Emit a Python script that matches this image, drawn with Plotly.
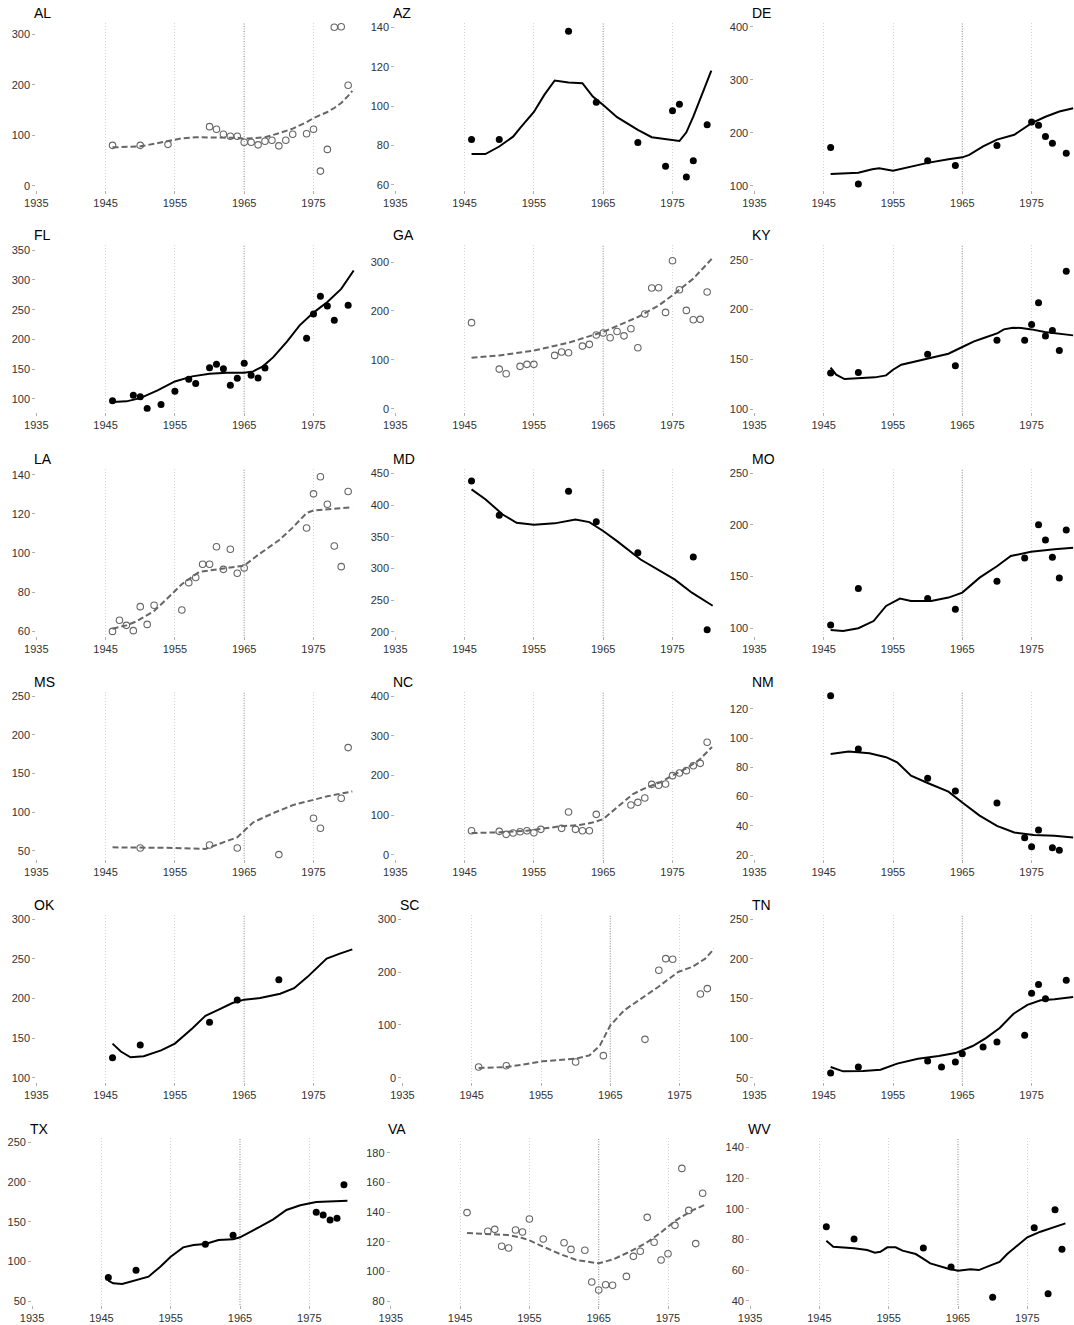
import plotly.graph_objects as go

# ---------------- data ----------------
states = ["AL", "AZ", "DE", "FL", "GA", "KY", "LA", "MD", "MO",
          "MS", "NC", "NM", "OK", "SC", "TN", "TX", "VA", "WV"]
dashed_states = ["AL", "GA", "LA", "MS", "NC", "SC", "VA"]
x_tick_years = [1935, 1945, 1955, 1965, 1975]
grid_years = [1945, 1955, 1975]
policy_year = 1965

AL_years = [1946, 1950, 1954, 1960, 1961, 1962, 1963, 1964, 1965, 1966, 1967, 1968, 1969,
            1970, 1971, 1972, 1974, 1975, 1976, 1977, 1978, 1979, 1980]
AL_values = [80, 80, 82, 117, 112, 102, 98, 98, 86, 86, 81, 88, 90, 79, 90, 102, 103, 112,
             29, 72, 314, 315, 199]
AL_fit_years = [1946, 1948, 1950, 1952, 1954, 1956, 1958, 1960, 1962, 1964, 1965, 1967,
                1968, 1970, 1972, 1974, 1975, 1976, 1977, 1978, 1979, 1980, 1980.6]
AL_fit_values = [76, 77, 78, 83, 88, 94, 96, 96, 96, 95, 93, 94, 96, 104, 113, 126, 134,
                 140, 146, 154, 164, 178, 188]
AL_ticks = [0, 100, 200, 300]

AZ_years = [1946, 1950, 1960, 1964, 1970, 1974, 1975, 1976, 1977, 1978, 1980]
AZ_values = [83, 83, 138, 102, 81.5, 69.5, 97.7, 101, 64, 72.3, 90.5]
AZ_fit_years = [1946, 1948, 1950, 1952, 1953, 1955, 1956.5, 1957.3, 1958, 1960, 1962,
                1963.5, 1965, 1967, 1970, 1972, 1976, 1977, 1978, 1980.6]
AZ_fit_values = [75.7, 75.7, 79.5, 84.5, 88.8, 97, 105.7, 109.6, 113, 112, 111.6, 104.8,
                 100.6, 94.4, 87.9, 84.2, 82.3, 86.7, 94.7, 118]
AZ_ticks = [60, 80, 100, 120, 140]

DE_years = [1946, 1950, 1960, 1964, 1970, 1975, 1976, 1977, 1978, 1980]
DE_values = [172, 103, 147, 138, 176, 220, 214, 193, 180, 161]
DE_fit_years = [1946, 1950, 1952, 1953, 1955, 1956, 1960, 1963, 1965, 1966, 1968, 1970,
                1971, 1972.5, 1975, 1977, 1979, 1981]
DE_fit_values = [122, 124.5, 131, 133, 128, 131, 143, 150, 153.5, 158, 174, 187, 191, 196,
                 218, 230, 240, 246]
DE_ticks = [100, 200, 300, 400]

FL_years = [1946, 1949, 1950, 1951, 1953, 1955, 1957, 1958, 1960, 1961, 1962, 1963, 1964,
            1965, 1966, 1967, 1968, 1974, 1975, 1976, 1977, 1978, 1980]
FL_values = [96.6, 105.6, 103.4, 83.7, 90.4, 112.4, 132.6, 125.8, 152.2, 157.9, 150.6, 122.5,
             134.3, 159.6, 139.3, 134.8, 151.7, 201.7, 242.7, 272.5, 256.2, 232, 257.3]
FL_fit_years = [1946, 1948, 1950, 1952.5, 1955, 1957.5, 1960, 1962.5, 1965, 1966.3, 1967.7,
                1969.2, 1971.2, 1973, 1975, 1977, 1979, 1980.8]
FL_fit_values = [94.4, 95.5, 101, 114, 129, 137.6, 142, 143.8, 143.8, 146, 154.5, 170,
                 196.6, 223.6, 245, 263, 285, 316]
FL_ticks = [100, 150, 200, 250, 300, 350]

GA_years = [1946, 1950, 1951, 1953, 1954, 1955, 1958, 1959, 1960, 1962, 1963, 1964, 1965,
            1966, 1967, 1968, 1969, 1970, 1971, 1972, 1973, 1974, 1975, 1976, 1977, 1978,
            1979, 1980]
GA_values = [176, 81, 71.6, 86.6, 90.7, 90.7, 109, 116, 114.5, 128, 131.6, 150.6, 154.7,
             145, 158, 149, 163.6, 124.7, 193.6, 246.8, 247.4, 197, 302.7, 243.4, 201, 182,
             182.7, 238.6]
GA_fit_years = [1946, 1950, 1955, 1960, 1965, 1970, 1973, 1975, 1978, 1980.7]
GA_fit_values = [104, 109, 119, 135, 157, 187.5, 211, 232, 266, 307]
GA_ticks = [0, 100, 200, 300]

KY_years = [1946, 1950, 1960, 1964, 1970, 1974, 1975, 1976, 1977, 1978, 1979, 1980]
KY_values = [136.2, 136.8, 154.9, 143.5, 169, 169, 185, 206.8, 173.3, 179, 158.9, 238.3]
KY_fit_years = [1946, 1946.8, 1948, 1950, 1952.4, 1954, 1955, 1956.2, 1957.2, 1960, 1963,
                1965, 1966.7, 1968.2, 1970.1, 1971, 1972.3, 1973.5, 1975, 1976.9, 1978.8,
                1981]
KY_fit_values = [141.5, 134.5, 130.1, 130.8, 131.8, 133.8, 139.5, 144.5, 146.2, 150.6,
                 155.6, 162.3, 168, 171.6, 176.3, 180, 181.7, 181.4, 180, 177.3, 175.7, 174]
KY_ticks = [100, 150, 200, 250]

LA_years = [1946, 1947, 1948, 1949, 1950, 1951, 1952, 1956, 1957, 1958, 1959, 1960, 1961,
            1962, 1963, 1964, 1965, 1974, 1975, 1976, 1977, 1978, 1979, 1980]
LA_values = [59.8, 65.5, 62.9, 60.2, 72.5, 63.4, 73.2, 70.8, 84.8, 87.4, 94.2, 94.2, 103.2,
             91.6, 101.9, 89.6, 92.3, 112.8, 130.3, 139.1, 125, 103.6, 93, 131.5]
LA_fit_years = [1946, 1948, 1949.5, 1952, 1954, 1956, 1958.5, 1961.5, 1963, 1965, 1967,
                1969, 1970, 1972, 1974, 1975, 1977, 1980.6]
LA_fit_values = [61.2, 62.9, 65, 70.3, 77, 84, 90.3, 92, 92.5, 93.5, 99, 104, 106.5, 113,
                 120.5, 121.8, 122.5, 123.5]
LA_ticks = [60, 80, 100, 120, 140]

MD_years = [1946, 1950, 1960, 1964, 1970, 1978, 1980]
MD_values = [437.9, 383.7, 421.6, 373.7, 324.7, 317.9, 203.2]
MD_fit_years = [1946, 1948, 1950.5, 1952.5, 1955, 1958, 1961, 1963, 1965, 1967, 1970.4,
                1973, 1975.3, 1977.8, 1980.8]
MD_fit_values = [424.7, 409, 385, 372, 369, 371, 377, 373, 359, 343, 314, 298, 282.6,
                 261.6, 241]
MD_ticks = [200, 250, 300, 350, 400, 450]

MO_years = [1946, 1950, 1960, 1964, 1970, 1974, 1976, 1977, 1978, 1979, 1980]
MO_values = [103.2, 138.4, 128.7, 118.4, 145.5, 168, 200.3, 185.5, 168.7, 148.7, 195.2]
MO_fit_years = [1946, 1947.8, 1950, 1952.2, 1954, 1956, 1957.6, 1960.5, 1963, 1965, 1967.5,
                1970, 1972, 1974.9, 1978.3, 1981]
MO_fit_values = [98.4, 97.4, 100, 107, 121.6, 128.7, 126.5, 126.5, 129.7, 134.5, 149, 160,
                 170, 174, 176.5, 178]
MO_ticks = [100, 150, 200, 250]

MS_years = [1950, 1960, 1964, 1970, 1975, 1976, 1979, 1980]
MS_values = [53.9, 57.8, 53.9, 45.3, 92.2, 79.3, 118.1, 183.6]
MS_fit_years = [1946, 1950, 1955, 1959.4, 1961.4, 1964, 1966.3, 1969.2, 1972.1, 1975,
                1977, 1980.6]
MS_fit_values = [54.7, 54.7, 53.9, 52.6, 59, 67.7, 87, 99, 109.5, 116.4, 120.7, 127]
MS_ticks = [50, 100, 150, 200, 250]

NC_years = [1946, 1950, 1951, 1952, 1953, 1954, 1955, 1956, 1959, 1960, 1961, 1962, 1963,
            1964, 1969, 1970, 1971, 1972, 1973, 1974, 1975, 1976, 1977, 1978, 1979, 1980]
NC_values = [60.6, 59, 51.4, 54.7, 58, 60.6, 55.6, 64, 66.5, 107.8, 64, 60.6, 60.6, 101.9,
             125.5, 132.2, 143.2, 177.7, 175.2, 178.5, 199.6, 206.3, 212.2, 224.8, 230.7,
             283.8]
NC_fit_years = [1946, 1950, 1954, 1955.9, 1958.8, 1961.6, 1963.6, 1965, 1966.4, 1967.9,
                1969.3, 1971.3, 1973.2, 1975.1, 1977, 1978.9, 1980.7]
NC_fit_values = [54.7, 56.4, 60.6, 64.8, 71.6, 75, 81.7, 90, 111, 134, 153.3, 170, 182.7,
                 201, 218, 240, 272]
NC_ticks = [0, 100, 200, 300, 400]

NM_years = [1946, 1950, 1960, 1964, 1970, 1974, 1975, 1976, 1978, 1979]
NM_values = [129.1, 92.6, 72.5, 63.8, 55.6, 31.9, 25.7, 37.1, 25, 23.2]
NM_fit_years = [1946, 1948.6, 1951.6, 1954, 1955.6, 1957.6, 1960, 1963, 1965, 1967.5, 1970,
                1972.5, 1975.3, 1978.3, 1981]
NM_fit_values = [89.2, 90.8, 89.6, 87, 83.5, 74.3, 69.3, 63.4, 56, 47, 40, 35.5, 33.7,
                 33.2, 32]
NM_ticks = [20, 40, 60, 80, 100, 120]

OK_years = [1946, 1950, 1960, 1964, 1970]
OK_values = [125.3, 141.3, 169.9, 198.1, 223.8]
OK_fit_years = [1946, 1947.2, 1948.6, 1950.5, 1953, 1955, 1957.5, 1959.4, 1961.4, 1963.3,
                1965, 1967.3, 1970.2, 1972.2, 1974.1, 1976.9, 1978.8, 1980.6]
OK_fit_values = [143, 133, 125.7, 127, 134.5, 143, 162, 178, 186.3, 194.3, 198.5, 200.6,
                 206, 213, 227, 250.3, 256.6, 262]
OK_ticks = [100, 150, 200, 250, 300]

SC_years = [1946, 1950, 1960, 1964, 1970, 1972, 1973, 1974, 1978, 1979]
SC_values = [20.2, 22.7, 29.7, 41.7, 72.6, 203.4, 225.5, 224.3, 158.6, 168.7]
SC_fit_years = [1946, 1950, 1952.3, 1955.2, 1960, 1962, 1963.5, 1965, 1967, 1969.4, 1971.9,
                1974.8, 1976.8, 1978.7, 1980]
SC_fit_values = [18.3, 20.2, 24.6, 31, 36, 42.3, 61, 99, 127.6, 149.7, 171.8, 200.3, 209.7,
                 225.5, 244.5]
SC_ticks = [0, 100, 200, 300]

TN_years = [1946, 1950, 1960, 1962, 1964, 1965, 1968, 1970, 1974, 1975, 1976, 1977, 1980]
TN_values = [55.9, 63.5, 71, 63.5, 69.8, 80.3, 88.7, 95, 103.5, 156.5, 167.5, 149.8, 173]
TN_fit_years = [1946, 1947.8, 1950.7, 1953.2, 1955.6, 1958.6, 1961.6, 1964, 1966.5, 1968.4,
                1970.4, 1972.4, 1974.4, 1976.3, 1978.3, 1981]
TN_fit_values = [63.5, 58, 58.4, 60, 67.7, 74, 77.4, 81, 90, 100, 112.7, 130.8, 142, 147.7,
                 149, 152]
TN_ticks = [50, 100, 150, 200, 250]

TX_years = [1946, 1950, 1960, 1964, 1976, 1977, 1978, 1979, 1980]
TX_values = [79.8, 88.7, 121.4, 132.8, 161.8, 158.4, 152.1, 154.2, 196.6]
TX_fit_years = [1946, 1946.7, 1948, 1949.6, 1951.8, 1953.5, 1955, 1956.8, 1958.3, 1960,
                1961.9, 1964, 1965, 1967.9, 1969.8, 1971.7, 1973.7, 1976, 1978.5, 1980.5]
TX_fit_values = [75.6, 72.3, 71.4, 75.6, 80.7, 93.3, 105.9, 117.6, 120.6, 121.8, 126.9,
                 127.7, 130.3, 143.7, 153, 164.7, 170.6, 174.8, 176, 176.5]
TX_ticks = [50, 100, 150, 200, 250]

VA_years = [1946, 1949, 1950, 1951, 1952, 1953, 1954, 1955, 1957, 1960, 1961, 1963, 1964,
            1965, 1966, 1967, 1969, 1970, 1971, 1972, 1973, 1974, 1975, 1976, 1977, 1978,
            1979, 1980]
VA_values = [139.6, 127, 128.3, 116.9, 115.7, 127.9, 126.5, 135.3, 121.8, 119.3, 114.8,
             114.2, 92.8, 87.4, 91, 90.6, 96.6, 110.1, 113.5, 136.4, 119.6, 107.6, 111.9,
             131, 169.4, 141.1, 118.7, 152.6]
VA_fit_years = [1946, 1948.9, 1951.8, 1953.7, 1955.1, 1957, 1959.4, 1961.8, 1964.2, 1965,
                1967.1, 1969.5, 1971.9, 1973.8, 1976.2, 1978.6, 1980.5]
VA_fit_values = [125.8, 125.4, 124.5, 122.9, 120.7, 116.6, 111.7, 107.6, 105.8, 105.4,
                 108.1, 113.3, 119.3, 125.6, 134.6, 141.3, 145.2]
VA_ticks = [80, 100, 120, 140, 160, 180]

WV_years = [1946, 1950, 1960, 1964, 1970, 1976, 1978, 1979, 1980]
WV_values = [88.4, 80.3, 74.4, 62, 42.2, 87.7, 44.6, 99.5, 73.6]
WV_fit_years = [1946, 1947, 1950, 1951.9, 1953, 1953.8, 1954.8, 1956, 1957, 1958.9, 1959.9,
                1961, 1963.5, 1965, 1966.8, 1968, 1969.7, 1971, 1972.1, 1975, 1976.9, 1978.8,
                1980.5]
WV_fit_values = [79.2, 75.3, 74.2, 73.1, 71.4, 72, 74.9, 74.9, 72.7, 70.5, 67.7, 64.4, 61.1,
                 59.6, 60.5, 60, 63.1, 65.3, 70.5, 81.4, 85.1, 87.9, 90.5]
WV_ticks = [40, 60, 80, 100, 120, 140]

data = {s: (globals()[s + "_years"], globals()[s + "_values"],
            globals()[s + "_fit_years"], globals()[s + "_fit_values"],
            globals()[s + "_ticks"]) for s in states}

# ---------------- layout geometry (pixels) ----------------
W, H = 1074, 1325
PX_PER_YEAR = 6.93
X_START = 1935
ROW_TOP = [22.5, 244.7, 468.7, 691.7, 914.7, 1138.0]
PANEL_H = 167.0
PANEL_X0 = {"AL": 36.3, "AZ": 395.3, "DE": 754.4,
            "FL": 36.3, "GA": 395.3, "KY": 754.4,
            "LA": 36.3, "MD": 395.3, "MO": 754.4,
            "MS": 36.3, "NC": 395.3, "NM": 754.4,
            "OK": 36.3, "SC": 402.4, "TN": 754.4,
            "TX": 32.1, "VA": 390.8, "WV": 750.1}
PANEL_X1 = {"SC": 714.0}
# y-axis ranges (value at panel bottom, value at panel top)
Y_RANGE = {"AL": (-7.5, 323.4), "AZ": (57.7, 142.4), "DE": (92.8, 407.9),
           "FL": (78.1, 359.4), "GA": (-6.1, 335.4), "KY": (97.3, 265.1),
           "LA": (57.6, 143.2), "MD": (193.7, 457.3), "MO": (92.8, 254.5),
           "MS": (40.0, 255.9), "NC": (-10.1, 411.6), "NM": (17.5, 131.8),
           "OK": (94.9, 305.8), "SC": (-7.6, 308.7), "TN": (44.9, 255.8),
           "TX": (45.0, 255.4), "VA": (77.3, 189.9), "WV": (37.2, 146.3)}

FONT = "Liberation Sans, Arial, Helvetica, sans-serif"
SOLID_COLOR = "#000000"
DASH_COLOR = "#666666"

fig = go.Figure()
layout_axes = {}
annotations = []
shapes = []

for i, s in enumerate(states):
    r, c = divmod(i, 3)
    n = i + 1
    xname = "x" if n == 1 else f"x{n}"
    yname = "y" if n == 1 else f"y{n}"
    xa = "xaxis" if n == 1 else f"xaxis{n}"
    ya = "yaxis" if n == 1 else f"yaxis{n}"

    yrs, vals, fyrs, fvals, yticks = data[s]
    dashed = s in dashed_states

    x0 = PANEL_X0[s]
    x1 = PANEL_X1.get(s, min(x0 + 46.6 * PX_PER_YEAR, W))
    x_end = X_START + (x1 - x0) / PX_PER_YEAR
    top = ROW_TOP[r]
    bot = top + PANEL_H

    fig.add_trace(go.Scatter(
        x=fyrs, y=fvals, mode="lines", xaxis=xname, yaxis=yname,
        line=dict(color=DASH_COLOR if dashed else SOLID_COLOR, width=2,
                  dash="6px,3px" if dashed else "solid"),
        hoverinfo="skip", showlegend=False))
    if dashed:
        marker = dict(symbol="circle-open", size=6.5, color=DASH_COLOR,
                      line=dict(width=1.1, color=DASH_COLOR))
    else:
        marker = dict(symbol="circle", size=7, color=SOLID_COLOR, line=dict(width=0))
    fig.add_trace(go.Scatter(
        x=yrs, y=vals, mode="markers", xaxis=xname, yaxis=yname,
        marker=marker, showlegend=False))

    layout_axes[xa] = dict(
        domain=[x0 / W, x1 / W], anchor=yname, range=[X_START, x_end],
        tickmode="array", tickvals=x_tick_years, ticktext=[str(v) for v in x_tick_years],
        ticks="outside", ticklen=3, tickwidth=1, tickcolor="#b0b0b0",
        showgrid=False, zeroline=False, showline=False, automargin=False,
        tickfont=dict(family=FONT, size=11, color="#333333"),
        minor=dict(tickmode="array", tickvals=grid_years, showgrid=True,
                   gridcolor="#d4d4d4", griddash="1px,2px", gridwidth=1, ticks=""),
        fixedrange=True)
    layout_axes[ya] = dict(
        domain=[1 - bot / H, 1 - top / H], anchor=xname, range=list(Y_RANGE[s]),
        tickmode="array", tickvals=yticks, ticktext=[str(v) for v in yticks],
        ticks="outside", ticklen=3, tickwidth=1, tickcolor="#b0b0b0",
        showgrid=False, zeroline=False, showline=False, automargin=False,
        tickfont=dict(family=FONT, size=11, color="#333333"),
        fixedrange=True)

    shapes.append(dict(type="line", xref=xname, yref=f"{yname} domain",
                       x0=policy_year, x1=policy_year, y0=0, y1=1, layer="below",
                       line=dict(color="#999999", width=1.2, dash="1px,1.5px")))

    annotations.append(dict(text=s, xref="paper", yref="paper",
                            x=(x0 - 4.5) / W, y=1 - (top - 9.5) / H,
                            xanchor="left", yanchor="middle", showarrow=False,
                            font=dict(family=FONT, size=14, color="#000000")))

fig.update_layout(
    template="none",
    width=W, height=H, autosize=False,
    margin=dict(l=0, r=0, t=0, b=0, pad=0),
    paper_bgcolor="white", plot_bgcolor="white",
    font=dict(family=FONT, size=11, color="#333333"),
    showlegend=False, annotations=annotations, shapes=shapes,
    **layout_axes)

fig.write_html("out.html",
               config={"displayModeBar": False, "responsive": False},
               post_script="document.body.style.margin='0';")
